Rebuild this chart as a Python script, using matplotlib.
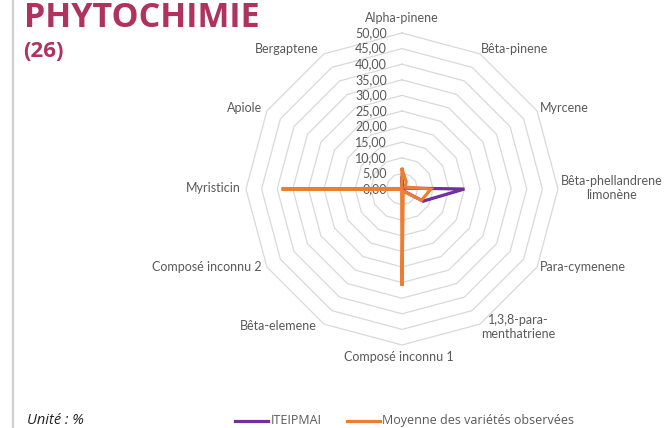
import numpy as np
import matplotlib
matplotlib.use('Agg')
import matplotlib.pyplot as plt
from matplotlib.lines import Line2D

# composés (sens horaire depuis le haut)
categories = ['Alpha-pinene', 'Bêta-pinene', 'Myrcene', 'Bêta-phellandrene\nlimonène',
              'Para-cymenene', '1,3,8-para-\nmenthatriene', 'Composé inconnu 1',
              'Bêta-elemene', 'Composé inconnu 2', 'Myristicin', 'Apiole', 'Bergaptene']
iteipmai = [3.5, 0.6, 0.6, 20.0, 7.8, 0.6, 0.3, 0.2, 0.2, 0.3, 0.2, 0.2]
moyenne = [6.3, 2.7, 1.2, 9.3, 7.2, 0.8, 31.0, 0.2, 0.2, 38.6, 0.3, 0.2]
series_names = ['ITEIPMAI', 'Moyenne des variétés observées']
ticks = [0, 5, 10, 15, 20, 25, 30, 35, 40, 45, 50]

W, H = 668, 428
fig = plt.figure(figsize=(W / 100, H / 100), dpi=100)
fig.patch.set_facecolor('white')

cx, cy, R = 402, 189, 156
ax = fig.add_axes([(cx - R) / W, 1 - (cy + R) / H, 2 * R / W, 2 * R / H], projection='polar')
ax.set_theta_zero_location('N')
ax.set_theta_direction(-1)
ax.set_ylim(0, 50)
ax.axis('off')

n = len(categories)
theta = np.linspace(0, 2 * np.pi, n, endpoint=False)
tc = np.append(theta, theta[0])

grey = '#595959'
lab_font = ['Lato', 'DejaVu Sans']

# grille polygonale
for v in ticks[1:]:
    ax.plot(tc, [v] * (n + 1), color='#D9D9D9', lw=0.9, zorder=1, clip_on=False)

# étiquettes de l'axe radial
for v in ticks:
    ax.annotate(f'{v:.2f}'.replace('.', ','), xy=(0, v), xytext=(-15, 0),
                textcoords='offset pixels', ha='right', va='center',
                fontsize=9, color=grey, family=lab_font, annotation_clip=False)

# étiquettes des catégories: (dx, dy, ha)
offs = [(0, 15, 'center'), (1, 5, 'left'), (3, 3, 'left'), (3, 1, 'left'),
        (3, 0, 'left'), (1, -3, 'left'), (-3, -12, 'center'), (-7, -2, 'right'),
        (-5, 0, 'right'), (-5, 1, 'right'), (-5, 3, 'right'), (-5, 5, 'right')]
for t, lab, (dx, dy, ha) in zip(theta, categories, offs):
    ax.annotate(lab, xy=(t, 50), xytext=(dx, dy), textcoords='offset pixels',
                ha=ha, va='center', multialignment='center', fontsize=9,
                color=grey, family=lab_font, annotation_clip=False, linespacing=1.25)

colors = ['#7030A0', '#ED7D31']
for vals, c in zip([iteipmai, moyenne], colors):
    ax.plot(tc, vals + vals[:1], color=c, lw=2.3, zorder=3, solid_joinstyle='miter')

# titre
tcol = '#B0325E'
fig.text(24 / W, 1 - 27 / H, 'PHYTOCHIMIE', fontsize=24.5, fontweight='bold',
         color=tcol, family='Open Sans', va='baseline', ha='left')
fig.text(23 / W, 1 - 57 / H, '(26)', fontsize=16, fontweight='bold',
         color=tcol, family='Open Sans', va='baseline', ha='left')

# trait vertical gauche
fig.add_artist(Line2D([13 / W, 13 / W], [0, 1], color='#D0D0D0', lw=1.6))

fig.text(27 / W, 1 - 424 / H, 'Unité : %', fontsize=10.5, style='italic',
         color='#222222', family='Open Sans', va='baseline', ha='left')

# légende
for (x0, x1, xt), name, c in zip([(235, 268, 271), (347, 380, 382)], series_names, colors):
    fig.add_artist(Line2D([x0 / W, x1 / W], [1 - 421 / H] * 2, color=c, lw=2.3))
    fig.text(xt / W, 1 - 424 / H, name, fontsize=9, color=grey,
             family='Open Sans', va='baseline', ha='left')

fig.savefig('out.png', dpi=100)
